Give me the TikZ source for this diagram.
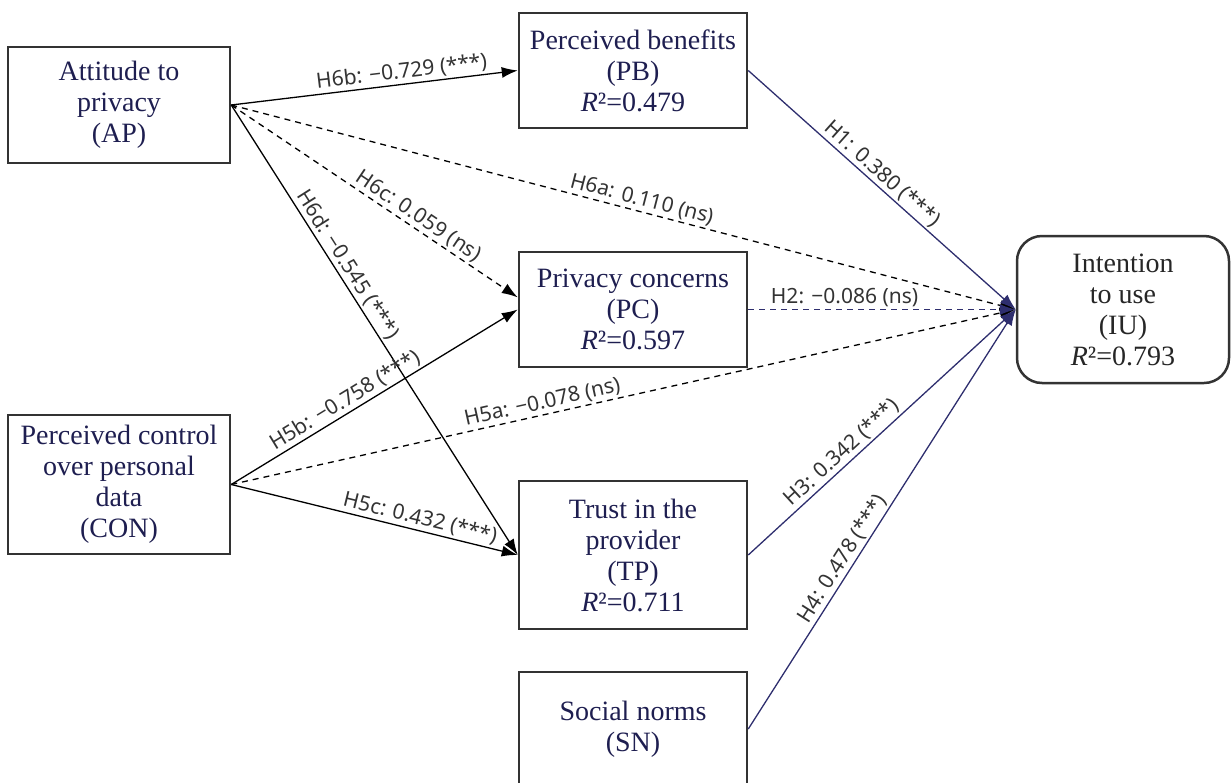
\documentclass[tikz,border=0pt]{standalone}
\usepackage{fontspec}
\setmainfont{Liberation Serif}
\newfontfamily\lblfont{Noto Sans}
\usetikzlibrary{arrows.meta}
\definecolor{boxnavy}{HTML}{1E1E50}
\definecolor{pathnavy}{HTML}{2E2E6E}
\definecolor{boxgray}{HTML}{333333}
\definecolor{lblgray}{HTML}{333333}

\begin{document}
\begin{tikzpicture}[x=1pt, y=-1pt,
  box/.style={draw=boxgray, line width=2.5pt, inner sep=0pt, align=center,
    text=boxnavy, font=\fontsize{28}{31}\selectfont},
  lbl/.style={font=\lblfont\fontsize{21}{24}\selectfont, text=lblgray,
    sloped, above, inner sep=2pt},
  link/.style={line width=1.3pt, -{Latex[length=16pt,width=11pt]}},
  nsdash/.style={dash pattern=on 6pt off 5pt}]
  \useasboundingbox (0,0) rectangle (1231,782);

  % antecedents
  \node[box, minimum width=222pt, minimum height=116pt] (AP) at (119,105)
    {Attitude to\\privacy\\(AP)};
  \node[box, minimum width=222pt, minimum height=139pt] (CON) at (119,484.5)
    {Perceived control\\over personal\\data\\(CON)};

  % mediators
  \node[box, minimum width=228pt, minimum height=115pt] (PB) at (633,70.5)
    {Perceived benefits\\(PB)\\\textit{R}²=0.479};
  \node[box, minimum width=228pt, minimum height=115pt] (PC) at (633,309.5)
    {Privacy concerns\\(PC)\\\textit{R}²=0.597};
  \node[box, minimum width=228pt, minimum height=148pt] (TP) at (633,555)
    {Trust in the\\provider\\(TP)\\\textit{R}²=0.711};
  \node[box, minimum width=228pt, minimum height=114pt] (SN) at (633,729)
    {Social norms\\(SN)};

  % outcome
  \node[box, rounded corners=25pt, text=black!85, minimum width=212pt,
    minimum height=147pt] (IU) at (1123,309.5)
    {Intention\\to use\\(IU)\\\textit{R}²=0.793};

  % paths from AP
  \draw[link] (AP.east) to node[lbl, pos=0.6] {H6b: −0.729 (***)} (PB.west);
  \draw[link, nsdash] (AP.east) to node[lbl, pos=0.52] {H6a: 0.110 (ns)} (IU.west);
  \draw[link, nsdash] (AP.east) to node[lbl, pos=0.63] {H6c: 0.059 (ns)} (PC.174);
  \draw[link] (AP.east) to node[lbl, pos=0.37] {H6d: −0.545 (***)} (TP.west);

  % paths from CON
  \draw[link] (CON.east) to node[lbl, pos=0.42] {H5b: −0.758 (***)} (PC.west);
  \draw[link, nsdash] (CON.east) to node[lbl, pos=0.4] {H5a: −0.078 (ns)} (IU.west);
  \draw[link] (CON.east) to node[lbl, pos=0.65] {H5c: 0.432 (***)} (TP.west);

  % paths to IU
  \draw[link, pathnavy] (PB.east) to node[lbl, pos=0.47] {H1: 0.380 (***)} (IU.west);
  \draw[link, pathnavy, nsdash] (PC.east) to node[lbl, pos=0.36] {H2: −0.086 (ns)} (IU.west);
  \draw[link, pathnavy] (TP.east) to node[lbl, pos=0.38] {H3: 0.342 (***)} (IU.west);
  \draw[link, pathnavy] (SN.east) to node[lbl, pos=0.39] {H4: 0.478 (***)} (IU.west);
\end{tikzpicture}
\end{document}
